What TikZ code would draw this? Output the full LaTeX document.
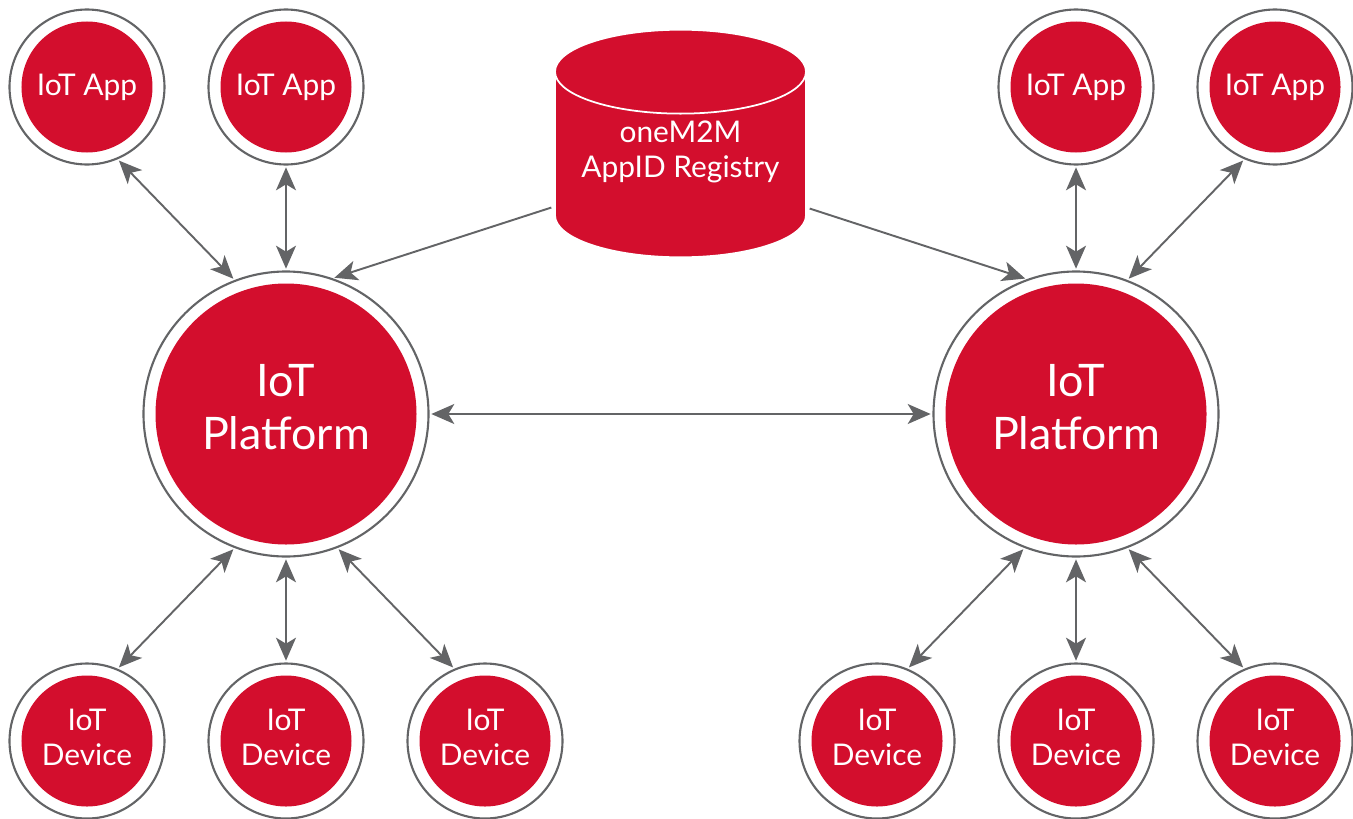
\documentclass[tikz,border=0pt]{standalone}
\usepackage{fontspec}
\setmainfont{Lato}
\usetikzlibrary{arrows.meta,shapes.geometric}
\definecolor{iotred}{HTML}{D30E2D}
\definecolor{ringgray}{HTML}{636466}
\begin{document}
\begin{tikzpicture}[iot tip/.tip={Stealth[length=0.46cm,width=0.4cm,inset=0.12cm]},>=iot tip,shorten >=1pt,shorten <=1pt,
  ring/.style={circle,draw=ringgray,line width=1.2pt,fill=white,inner sep=0pt,minimum size=#1,text=white,align=center,
    path picture={\fill[iotred] (path picture bounding box.center) circle[radius={#1/2-0.24cm}];}},
  app node/.style={ring=3.1cm,font=\fontsize{17}{20}\selectfont},
  device node/.style={ring=3.1cm,font=\fontsize{17}{20}\selectfont,text depth=0.16cm},
  platform node/.style={ring=5.7cm,font=\fontsize{25.5}{30}\selectfont,text depth=0.28cm},
  registry/.style={cylinder,shape border rotate=90,aspect=0.4,draw=white,line width=1pt,fill=iotred,
    minimum width=5.02cm,minimum height=4.32cm,text=white,align=center,font=\fontsize{17}{20}\selectfont,
    text depth=0.9cm,anchor=shape center},
  link/.style={<->,ringgray,line width=1.1pt}]
  \useasboundingbox (-5.72,-8.08) rectangle (21.34,8.28);

  \node[platform node] (P1) at (0,0) {IoT\\Platform};
  \node[platform node] (P2) [right of=P1, node distance=15.8cm] {IoT\\Platform};
  \node[app node] (A2) [above of=P1, node distance=6.54cm] {IoT App};
  \node[app node] (A1) [left of=A2, node distance=3.98cm] {IoT App};
  \node[app node] (A3) [above of=P2, node distance=6.54cm] {IoT App};
  \node[app node] (A4) [right of=A3, node distance=3.98cm] {IoT App};
  \node[device node] (D2) [below of=P1, node distance=6.54cm] {IoT\\Device};
  \node[device node] (D1) [left of=D2, node distance=3.98cm] {IoT\\Device};
  \node[device node] (D3) [right of=D2, node distance=3.98cm] {IoT\\Device};
  \node[device node] (D5) [below of=P2, node distance=6.54cm] {IoT\\Device};
  \node[device node] (D4) [left of=D5, node distance=3.98cm] {IoT\\Device};
  \node[device node] (D6) [right of=D5, node distance=3.98cm] {IoT\\Device};
  \node[registry] (R) at (7.89,5.41) {oneM2M\\AppID Registry};

  \path[link]
    (A1.-67) edge (P1.111)
    (A2) edge (P1)
    (A3) edge (P2)
    (A4.-113) edge (P2.69)
    (D1.67) edge (P1.-111)
    (D2) edge (P1)
    (D3.113) edge (P1.-69)
    (D4.67) edge (P2.-111)
    (D5) edge (P2)
    (D6.113) edge (P2.-69)
    (P1) edge (P2);
  \path[->,ringgray,line width=1.1pt]
    ([shift={(-2.55,-1.27)}]R.shape center) edge (P1.71)
    ([shift={(2.55,-1.29)}]R.shape center) edge (P2.110);
\end{tikzpicture}
\end{document}
